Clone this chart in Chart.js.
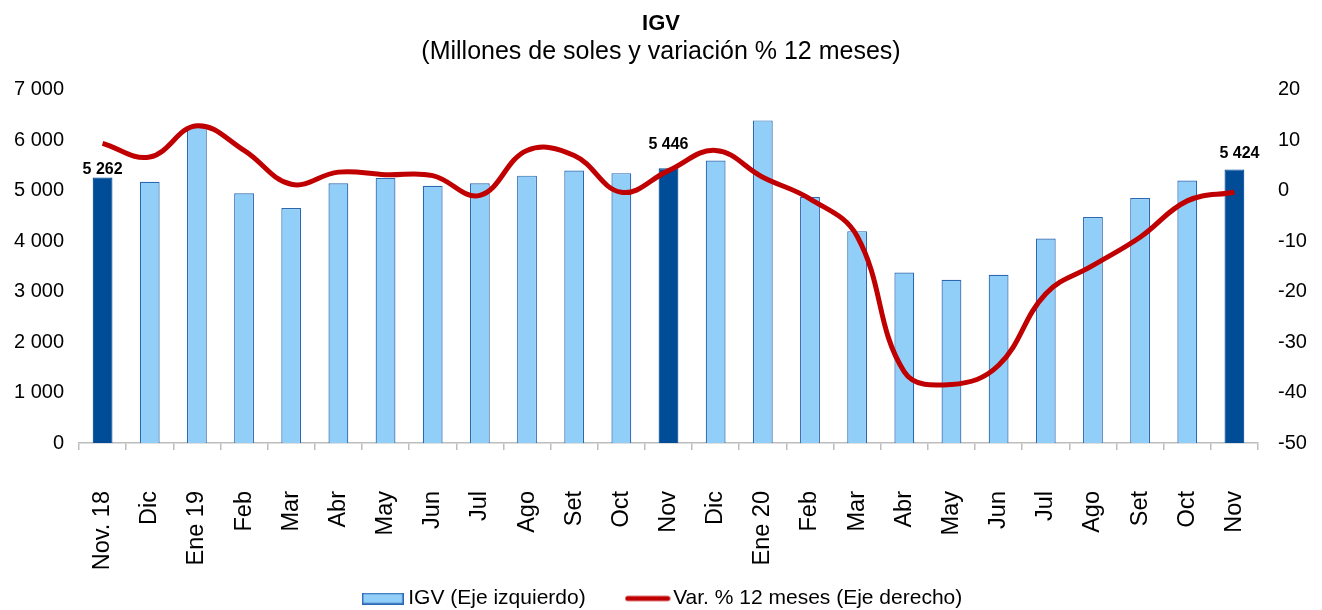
<!DOCTYPE html>
<html>
<head>
<meta charset="utf-8">
<script src="https://cdn.jsdelivr.net/npm/chart.js@4"></script>
<style>
  html, body { margin: 0; padding: 0; background: #fff; }
</style>
</head>
<body>
<canvas id="igvChart" width="1322" height="610"></canvas>
<script>
// Datos del gráfico
const meses = ['Nov. 18', 'Dic', 'Ene 19', 'Feb', 'Mar', 'Abr', 'May', 'Jun', 'Jul', 'Ago', 'Set', 'Oct', 'Nov',
  'Dic', 'Ene 20', 'Feb', 'Mar', 'Abr', 'May', 'Jun', 'Jul', 'Ago', 'Set', 'Oct', 'Nov'];
const igv = [5262, 5180, 6260, 4950, 4660, 5150, 5255, 5100, 5150, 5300, 5400, 5350, 5446,
  5600, 6395, 4875, 4200, 3380, 3235, 3335, 4055, 4480, 4855, 5205, 5424];
const varPct = [9.4, 6.7, 12.9, 8.0, 1.3, 3.7, 3.2, 3.0, -0.9, 8.0, 7.0, -0.3, 4.0,
  8.0, 2.7, -1.6, -9.0, -35.9, -38.4, -34.6, -20.4, -14.8, -9.2, -2.0, -0.3];
const destacados = [0, 12, 24];
const ticksIzq = [0, 1000, 2000, 3000, 4000, 5000, 6000, 7000];
const ticksDer = [-50, -40, -30, -20, -10, 0, 10, 20];

const azulClaro = '#92CFF8';
const azulBorde = '#2A68B4';
const azulOscuro = '#004C97';
const rojo = '#C00000';
const fuente = '"Liberation Sans", Arial, sans-serif';

Chart.defaults.font.family = fuente;
Chart.defaults.color = '#000';

function fmt(v) {
  return String(v).replace(/\B(?=(\d{3})+(?!\d))/g, ' ');
}

function icono(w, h, draw) {
  const c = document.createElement('canvas');
  c.width = w;
  c.height = h;
  draw(c.getContext('2d'));
  return c;
}
const iconoBarra = icono(42, 12, ctx => {
  ctx.fillStyle = azulClaro;
  ctx.fillRect(0, 0, 42, 12);
  ctx.strokeStyle = azulBorde;
  ctx.lineWidth = 1.5;
  ctx.strokeRect(0.75, 0.75, 40.5, 10.5);
});
const iconoLinea = icono(46, 8, ctx => {
  ctx.strokeStyle = rojo;
  ctx.lineWidth = 5;
  ctx.lineCap = 'round';
  ctx.beginPath();
  ctx.moveTo(3, 4);
  ctx.lineTo(43, 4);
  ctx.stroke();
});

// desplazamiento (px) de cada etiqueta respecto a su barra, como en el original
const ajusteEtiqueta = { 0: [0, 4], 12: [0, 19], 24: [5, 11] };

const etiquetas = {
  id: 'etiquetas',
  afterLayout(chart) {
    // leyenda un poco más abajo y a la derecha
    chart.legend.top += 9;
    chart.legend.bottom += 9;
    chart.legend.left += 8;
    // dejar sitio a las etiquetas verticales del eje x
    chart.scales.x.bottom = chart.height;
  },
  afterDatasetsDraw(chart) {
    const meta = chart.getDatasetMeta(0);
    const ctx = chart.ctx;
    ctx.save();
    ctx.font = 'bold 16px ' + fuente;
    ctx.fillStyle = '#000';
    ctx.textAlign = 'center';
    ctx.textBaseline = 'alphabetic';
    destacados.forEach(i => {
      const bar = meta.data[i];
      const [dx, dy] = ajusteEtiqueta[i] || [0, 5];
      ctx.fillText(fmt(igv[i]), bar.x + dx, bar.y - dy);
    });
    ctx.restore();
  }
};

const ctx = document.getElementById('igvChart').getContext('2d');
new Chart(ctx, {
  type: 'bar',
  data: {
    labels: meses,
    datasets: [{
      label: 'IGV (Eje izquierdo)',
      data: igv,
      yAxisID: 'y',
      order: 1,
      backgroundColor: igv.map((v, i) => destacados.includes(i) ? azulOscuro : azulClaro),
      borderColor: igv.map((v, i) => destacados.includes(i) ? azulOscuro : azulBorde),
      borderWidth: 1.2,
      barPercentage: 0.42,
      categoryPercentage: 1
    }, {
      type: 'line',
      label: 'Var. % 12 meses (Eje derecho)',
      data: varPct,
      yAxisID: 'y1',
      order: 0,
      borderColor: rojo,
      borderWidth: 5,
      tension: 0.4,
      pointRadius: 0,
      fill: false
    }]
  },
  options: {
    responsive: false,
    animation: false,
    layout: { padding: 0 },
    plugins: {
      title: {
        display: true,
        text: 'IGV',
        color: '#000',
        font: { size: 22, weight: 'bold', lineHeight: 0.75 },
        padding: { top: 15.75, bottom: 0 }
      },
      subtitle: {
        display: true,
        text: '(Millones de soles y variación % 12 meses)',
        color: '#000',
        font: { size: 25, lineHeight: 0.75 },
        padding: { top: 10.9, bottom: 28 }
      },
      legend: {
        position: 'bottom',
        labels: {
          color: '#000',
          font: { size: 21 },
          usePointStyle: true,
          pointStyleWidth: 30,
          padding: 47,
          sort: (a, b) => a.datasetIndex - b.datasetIndex,
          generateLabels(chart) {
            const items = Chart.defaults.plugins.legend.labels.generateLabels(chart);
            items.forEach(it => {
              it.pointStyle = it.datasetIndex === 0 ? iconoBarra : iconoLinea;
            });
            return items;
          }
        }
      },
      tooltip: { enabled: false }
    },
    scales: {
      x: {
        offset: true,
        border: { display: true, color: '#BDBDBD', width: 1.5 },
        grid: {
          offset: true,
          drawOnChartArea: false,
          drawTicks: true,
          tickLength: 7,
          color: '#BDBDBD',
          lineWidth: 1.5
        },
        ticks: {
          minRotation: 90,
          maxRotation: 90,
          autoSkip: false,
          padding: 41,
          font: { size: 23.5 }
        },
        afterFit(scale) { scale.height = 89; }
      },
      y: {
        position: 'left',
        min: 0,
        max: 7000,
        border: { display: false },
        grid: { display: false, drawTicks: false },
        afterBuildTicks(scale) { scale.ticks = ticksIzq.map(v => ({ value: v })); },
        ticks: {
          padding: 15,
          font: { size: 20 },
          callback: v => fmt(v)
        },
        afterFit(scale) { scale.width = 79; }
      },
      y1: {
        position: 'right',
        min: -50,
        max: 20,
        border: { display: false },
        grid: { display: false, drawTicks: false },
        afterBuildTicks(scale) { scale.ticks = ticksDer.map(v => ({ value: v })); },
        ticks: {
          padding: 20,
          font: { size: 20 },
          callback: v => String(v)
        },
        afterFit(scale) { scale.width = 64; }
      }
    }
  },
  plugins: [etiquetas]
});
</script>
</body>
</html>
